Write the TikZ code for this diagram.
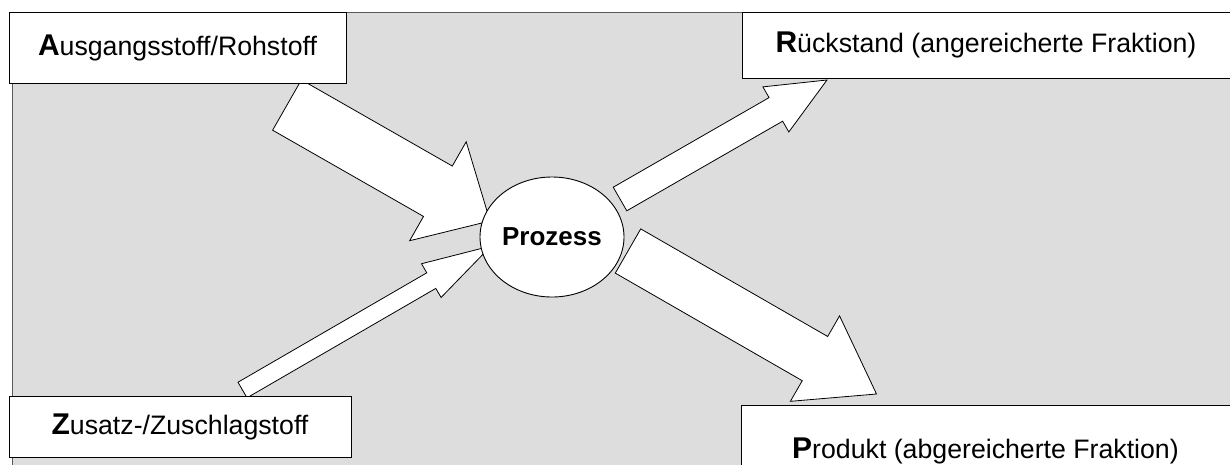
\documentclass[tikz,border=0pt]{standalone}
\usepackage{fontspec}
\setmainfont{Liberation Sans}
\usetikzlibrary{calc, shapes.geometric}
\definecolor{panelgray}{RGB}{221,221,221}
\newcommand\firstletter[1]{{\fontsize{30}{30}\selectfont\bfseries #1}}

\begin{document}
\begin{tikzpicture}[
  x=1pt, y=-1pt,
  every node/.style={font=\fontsize{26.7}{30}\selectfont},
  box/.style={draw, fill=white, line width=0.9pt, inner sep=0pt, text centered},
  procnode/.style={ellipse, draw, fill=white, line width=0.9pt, minimum width=144pt, minimum height=120pt, inner sep=0pt, font=\fontsize{26}{30}\selectfont\bfseries},
  fatarrow/.style={draw, fill=white, line width=0.8pt, line join=miter},
]
\path[use as bounding box, clip] (0,0) rectangle (1230,464);
\draw[fill=panelgray, draw=gray!70!black, line width=1pt] (12,12) rectangle (1240,480);

% ends of the block arrows
\coordinate (ein-tail) at (287,105);
\coordinate (ein-tip) at (490,221);
\coordinate (zu-tail) at (242.5,390);
\coordinate (zu-tip) at (491,246);
\coordinate (rue-tail) at (620,199);
\coordinate (rue-tip) at (827,80);
\coordinate (pro-tail) at (628,251);
\coordinate (pro-tip) at (876.5,394);

\foreach \tail/\tip/\shaft/\head/\len in {ein-tail/ein-tip/29pt/57pt/60pt, zu-tail/zu-tip/9pt/19.5pt/69pt, rue-tail/rue-tip/13.6pt/26pt/59pt, pro-tail/pro-tip/25.5pt/49.3pt/71pt}{
  \coordinate (hb) at ($(\tip)!\len!(\tail)$);
  \draw[fatarrow] ($(\tail)!\shaft!90:(\tip)$) -- ($(hb)!\shaft!90:(\tip)$) -- ($(hb)!\head!90:(\tip)$) -- (\tip)
    -- ($(hb)!\head!-90:(\tip)$) -- ($(hb)!\shaft!-90:(\tip)$) -- ($(\tail)!\shaft!-90:(\tip)$) -- cycle;
}

\node[box, minimum width=337pt, minimum height=71pt] (rohstoff) at (177.5,47.5) {\firstletter{A}usgangsstoff/Rohstoff};
\node[box, minimum width=488pt, minimum height=66pt] (rueckstand) at (986,45) {\firstletter{R}ückstand (angereicherte Fraktion)};
\node[box, minimum width=342pt, minimum height=61pt] (zusatz) at (180,426.5) {\firstletter{Z}usatz-/Zuschlagstoff};
\node[box, minimum width=489pt, minimum height=92pt] (produkt) at (985.5,451) {\firstletter{P}rodukt (abgereicherte Fraktion)};
\node[procnode] (prozess) at (552,237) {Prozess};
\end{tikzpicture}
\end{document}
